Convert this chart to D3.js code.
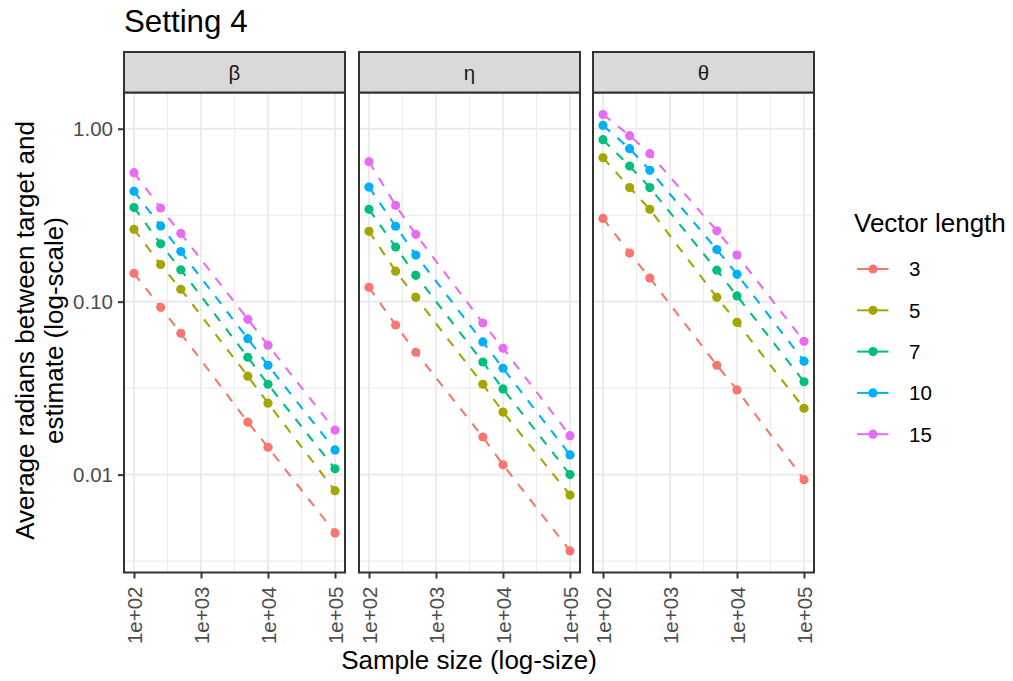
<!DOCTYPE html>
<html>
<head>
<meta charset="utf-8">
<script src="https://cdn.jsdelivr.net/npm/d3@7"></script>
<style>
  body { margin: 0; background: #fff; }
  svg { display: block; font-family: "Liberation Sans", Arial, sans-serif; }
</style>
</head>
<body>
<svg id="chart" width="1013" height="681"></svg>
<script>
// ---- Data ----
const facets = ["β", "η", "θ"];
const sampleSizes = [100, 250, 500, 5000, 10000, 100000];
const vectorLengths = ["3", "5", "7", "10", "15"];
const seriesColors = ["#F8766D", "#A3A500", "#00BF7D", "#00B0F6", "#E76BF3"];

// beta panel, one array per vector length (values at sampleSizes)
const beta_3  = [0.146, 0.0927, 0.0656, 0.0201, 0.0144, 0.00460];
const beta_5  = [0.262, 0.164, 0.118, 0.0371, 0.0259, 0.00807];
const beta_7  = [0.350, 0.216, 0.153, 0.0477, 0.0333, 0.0108];
const beta_10 = [0.435, 0.274, 0.195, 0.0611, 0.0429, 0.0139];
const beta_15 = [0.557, 0.348, 0.248, 0.0791, 0.0560, 0.0181];

const eta_3  = [0.121, 0.0733, 0.0510, 0.0165, 0.0114, 0.00362];
const eta_5  = [0.255, 0.150, 0.106, 0.0333, 0.0230, 0.00762];
const eta_7  = [0.342, 0.207, 0.142, 0.0448, 0.0313, 0.0100];
const eta_10 = [0.460, 0.273, 0.186, 0.0585, 0.0412, 0.0130];
const eta_15 = [0.645, 0.360, 0.245, 0.0753, 0.0538, 0.0168];

const theta_3  = [0.303, 0.191, 0.137, 0.0429, 0.0309, 0.00935];
const theta_5  = [0.680, 0.457, 0.342, 0.106, 0.0760, 0.0242];
const theta_7  = [0.864, 0.608, 0.457, 0.152, 0.108, 0.0344];
const theta_10 = [1.045, 0.767, 0.575, 0.200, 0.144, 0.0453];
const theta_15 = [1.209, 0.912, 0.717, 0.257, 0.186, 0.0590];

const panelSeries = [
  [beta_3, beta_5, beta_7, beta_10, beta_15],
  [eta_3, eta_5, eta_7, eta_10, eta_15],
  [theta_3, theta_5, theta_7, theta_10, theta_15]
];

const xTicks = [1e2, 1e3, 1e4, 1e5];
const xTickLabels = ["1e+02", "1e+03", "1e+04", "1e+05"];
const xMinor = [Math.pow(10, 2.5), Math.pow(10, 3.5), Math.pow(10, 4.5)];
const yTicks = [0.01, 0.1, 1];
const yTickLabels = ["0.01", "0.10", "1.00"];
const yMinor = [Math.pow(10, -2.5), Math.pow(10, -1.5), Math.pow(10, -0.5)];

// ---- Layout ----
const svg = d3.select("#chart");
const panelLefts = [124, 359, 593];
const panelW = 221;
const stripTop = 52, stripBottom = 92.5, panelBottom = 572.5;

const y = d3.scaleLog()
  .domain([Math.pow(10, -2.566), Math.pow(10, 0.2095)])
  .range([panelBottom, stripBottom]);

const xDomain = [Math.pow(10, 1.851), Math.pow(10, 5.149)];

// Title
svg.append("text").attr("x", 124).attr("y", 32)
  .attr("font-size", 31.3).attr("fill", "#000").text("Setting 4");

facets.forEach((f, pi) => {
  const x0 = panelLefts[pi];
  const x = d3.scaleLog().domain(xDomain).range([x0, x0 + panelW]);
  const g = svg.append("g");

  // panel background
  g.append("rect").attr("x", x0).attr("y", stripBottom)
    .attr("width", panelW).attr("height", panelBottom - stripBottom).attr("fill", "#fff");

  // minor grid
  g.selectAll(".xmin").data(xMinor).join("line")
    .attr("x1", d => x(d)).attr("x2", d => x(d))
    .attr("y1", stripBottom).attr("y2", panelBottom)
    .attr("stroke", "#EBEBEB").attr("stroke-width", 1.1);
  g.selectAll(".ymin").data(yMinor).join("line")
    .attr("x1", x0).attr("x2", x0 + panelW)
    .attr("y1", d => y(d)).attr("y2", d => y(d))
    .attr("stroke", "#EBEBEB").attr("stroke-width", 1.1);
  // major grid
  g.selectAll(".xmaj").data(xTicks).join("line")
    .attr("x1", d => x(d)).attr("x2", d => x(d))
    .attr("y1", stripBottom).attr("y2", panelBottom)
    .attr("stroke", "#EBEBEB").attr("stroke-width", 2.1);
  g.selectAll(".ymaj").data(yTicks).join("line")
    .attr("x1", x0).attr("x2", x0 + panelW)
    .attr("y1", d => y(d)).attr("y2", d => y(d))
    .attr("stroke", "#EBEBEB").attr("stroke-width", 2.1);

  // series
  const line = d3.line().x((d, i) => x(sampleSizes[i])).y(d => y(d));
  panelSeries[pi].forEach((vals, si) => {
    g.append("path").datum(vals)
      .attr("d", line).attr("fill", "none")
      .attr("stroke", seriesColors[si]).attr("stroke-width", 2.1)
      .attr("stroke-dasharray", "9.5,9.5");
    g.selectAll(null).data(vals).join("circle")
      .attr("cx", (d, i) => x(sampleSizes[i])).attr("cy", d => y(d))
      .attr("r", 4.6).attr("fill", seriesColors[si]);
  });

  // panel border
  g.append("rect").attr("x", x0).attr("y", stripBottom)
    .attr("width", panelW).attr("height", panelBottom - stripBottom)
    .attr("fill", "none").attr("stroke", "#333333").attr("stroke-width", 2);

  // strip
  g.append("rect").attr("x", x0).attr("y", stripTop)
    .attr("width", panelW).attr("height", stripBottom - stripTop)
    .attr("fill", "#D9D9D9").attr("stroke", "#333333").attr("stroke-width", 2);
  g.append("text").attr("x", x0 + panelW / 2).attr("y", (stripTop + stripBottom) / 2)
    .attr("dy", "0.36em").attr("text-anchor", "middle")
    .attr("font-size", 20.5).attr("fill", "#1A1A1A").text(f);

  // x axis
  const xAxis = d3.axisBottom(x).tickValues(xTicks)
    .tickFormat((d, i) => xTickLabels[i]).tickSizeOuter(0).tickSize(6).tickPadding(3);
  const xa = g.append("g").attr("transform", `translate(0,${panelBottom})`).call(xAxis);
  xa.select(".domain").remove();
  xa.selectAll(".tick line").attr("stroke", "#333333").attr("stroke-width", 2);
  xa.selectAll(".tick text")
    .attr("font-family", "Liberation Sans, Arial, sans-serif")
    .attr("font-size", 20.5).attr("fill", "#4D4D4D")
    .attr("transform", "rotate(-90)")
    .attr("text-anchor", "end")
    .attr("x", -14).attr("y", 0).attr("dy", "0.36em");
});

// y axis (left of first panel)
{
  const yAxis = d3.axisLeft(y).tickValues(yTicks)
    .tickFormat((d, i) => yTickLabels[i]).tickSizeOuter(0).tickSize(6).tickPadding(5);
  const ya = svg.append("g").attr("transform", `translate(${panelLefts[0]},0)`).call(yAxis);
  ya.select(".domain").remove();
  ya.selectAll(".tick line").attr("stroke", "#333333").attr("stroke-width", 2);
  ya.selectAll(".tick text")
    .attr("font-family", "Liberation Sans, Arial, sans-serif")
    .attr("font-size", 20.5).attr("fill", "#4D4D4D");
}

// axis titles
svg.append("text").attr("x", 469).attr("y", 669)
  .attr("text-anchor", "middle").attr("font-size", 26).attr("fill", "#000")
  .text("Sample size (log-size)");

const yTitle = svg.append("text")
  .attr("transform", `translate(0,${(stripBottom + panelBottom) / 2 - 2}) rotate(-90)`)
  .attr("text-anchor", "middle").attr("font-size", 26).attr("fill", "#000");
yTitle.append("tspan").attr("x", 0).attr("y", 34).text("Average radians between target and");
yTitle.append("tspan").attr("x", 0).attr("y", 63).text("estimate (log-scale)");

// legend
const legend = svg.append("g");
legend.append("text").attr("x", 854).attr("y", 232)
  .attr("font-size", 26).attr("fill", "#000").text("Vector length");
const legRowY = [269, 310.3, 351.6, 392.9, 434.2];
vectorLengths.forEach((v, i) => {
  const ly = legRowY[i];
  legend.append("line").attr("x1", 857).attr("x2", 888.5)
    .attr("y1", ly).attr("y2", ly)
    .attr("stroke", seriesColors[i]).attr("stroke-width", 2);
  legend.append("circle").attr("cx", 873).attr("cy", ly).attr("r", 4.6)
    .attr("fill", seriesColors[i]);
  legend.append("text").attr("x", 909).attr("y", ly).attr("dy", "0.36em")
    .attr("font-size", 20.5).attr("fill", "#000").text(v);
});
</script>
</body>
</html>
